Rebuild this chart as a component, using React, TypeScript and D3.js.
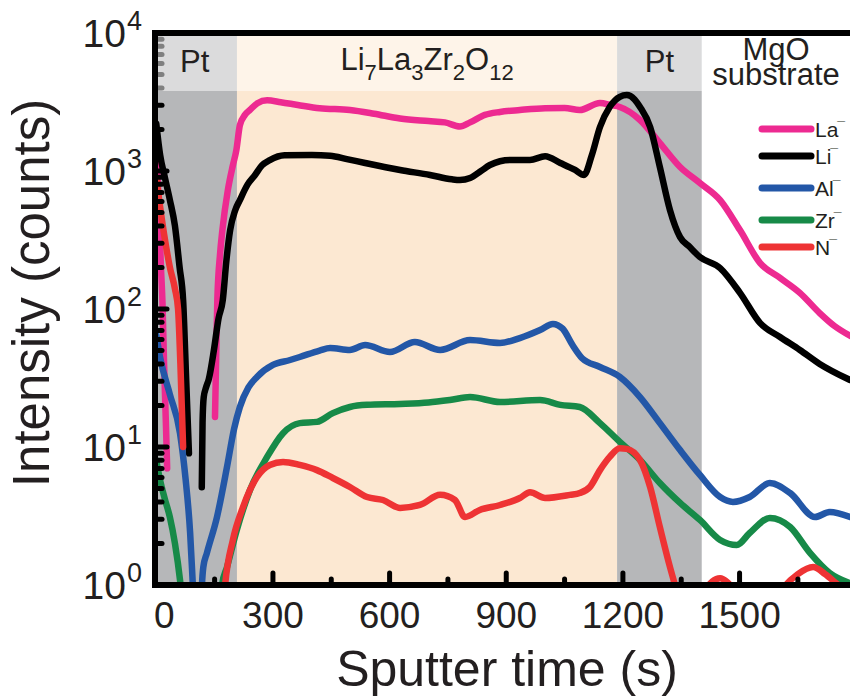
import React from 'react';
import * as d3 from 'd3';

const W = 850;
const H = 700;

// Each series: [sputter time (s), counts]; segments are separated where the trace breaks
const laSeg1: [number, number][] = [[0, 1500], [6, 600], [12, 200], [16, 110], [20, 40], [25, 14], [28, 7]];
const laSeg2: [number, number][] = [[151, 16.5], [154, 45], [157, 116], [164, 250], [170, 373], [184, 725], [197, 1100], [206, 1420], [215, 2150], [228, 2550], [241, 2770], [260, 3100], [285, 3250], [320, 3150], [364, 3010], [420, 2850], [498, 2767], [560, 2600], [627, 2400], [700, 2300], [742, 2250], [781, 2100], [807, 2250], [845, 2550], [884, 2680], [935, 2767], [1000, 2850], [1050, 2860], [1089, 2767], [1141, 3110], [1170, 3000], [1192, 2910], [1244, 2343], [1295, 1595], [1347, 1069], [1398, 819], [1450, 616], [1501, 373], [1553, 215], [1604, 168], [1655, 131], [1706, 93.5], [1745, 75], [1784, 64]];

const liSeg1: [number, number][] = [[0, 2200], [10, 1300], [22, 900], [35, 616], [48, 400], [60, 200], [69, 116], [77, 30], [84, 9]];
const liSeg2: [number, number][] = [[117, 5.1], [119, 15], [122, 23], [128, 27], [135, 31], [148, 50], [160, 85], [171, 116], [180, 220], [190, 373], [203, 520], [215, 616], [235, 800], [254, 936], [272, 1100], [292, 1200], [330, 1300], [400, 1306], [447, 1290], [490, 1220], [537, 1143], [627, 1017], [704, 936], [760, 870], [781, 860], [807, 890], [835, 1000], [858, 1105], [910, 1202], [961, 1202], [1000, 1280], [1039, 1143], [1077, 1017], [1100, 936], [1120, 1300], [1141, 2084], [1166, 2910], [1192, 3450], [1210, 3555], [1230, 3300], [1244, 2910], [1270, 2084], [1295, 1069], [1321, 521], [1347, 332], [1372, 281], [1398, 238], [1450, 198], [1501, 131], [1553, 79], [1604, 62.7], [1655, 50.5], [1706, 40], [1784, 30.6]];

const alSeg1: [number, number][] = [[0, 65], [9.5, 45], [35, 24], [61, 12.6], [75, 6], [87, 2.4], [94, 1.0], [98, 0.6]];
const alSeg2: [number, number][] = [[115, 0.6], [117.5, 1.0], [121, 1.35], [130, 1.7], [156, 3.1], [182, 7.2], [200, 13.5], [215, 19.5], [237, 27], [259, 32.2], [300, 39.3], [344, 42.7], [369, 44.9], [420, 50], [447, 52.2], [498, 50.5], [537, 54.8], [601, 48.8], [665, 57.7], [730, 50.5], [807, 59.6], [884, 56.7], [935, 61.6], [987, 70.4], [1020, 78], [1045, 72], [1070, 55], [1095, 44], [1141, 38], [1192, 32.2], [1244, 23], [1295, 14.9], [1347, 9.5], [1398, 6.27], [1450, 4.34], [1483, 4.0], [1526, 4.34], [1578, 5.48], [1630, 4.64], [1694, 3.11], [1732, 3.38], [1784, 3.11]];

const zrSeg1: [number, number][] = [[0, 8], [9.5, 5.8], [22, 4.2], [35, 3.1], [48, 2], [61, 1.09], [66, 0.8]];
const zrSeg2: [number, number][] = [[165, 0.8], [169, 1.0], [182, 1.35], [207, 2.5], [241, 4.88], [285, 8.47], [326, 12.6], [369, 14.9], [413, 15.2], [454, 17.6], [498, 19.5], [542, 20.2], [627, 20.5], [700, 21], [755, 21.9], [807, 23], [884, 21.2], [987, 21.9], [1039, 20.2], [1089, 19.5], [1141, 14.9], [1192, 10.9], [1244, 8.05], [1295, 5.48], [1347, 3.93], [1398, 2.96], [1450, 2.12], [1493, 1.95], [1526, 2.38], [1578, 3.06], [1630, 2.63], [1681, 1.71], [1732, 1.22], [1784, 1.03]];

const nSeg1: [number, number][] = [[0, 900], [8, 600], [20, 350], [35, 200], [48, 140], [56, 100], [62, 40], [69, 10]];
const nSeg2: [number, number][] = [[174, 0.8], [177, 1.0], [197, 2.12], [223, 3.67], [259, 6.06], [292, 7.41], [326, 7.8], [369, 7.41], [413, 6.8], [454, 5.96], [498, 5.13], [542, 4.34], [583, 4.13], [627, 3.62], [678, 3.8], [730, 4.5], [768, 4.13], [794, 3.11], [832, 3.5], [884, 3.8], [935, 4.27], [961, 4.7], [1000, 4.27], [1064, 4.5], [1089, 4.64], [1115, 5.13], [1141, 6.8], [1166, 8.47], [1192, 9.8], [1210, 9.7], [1244, 8.05], [1270, 5.13], [1295, 2.63], [1321, 1.35], [1334, 1.0], [1350, 0.7], [1380, 0.6], [1410, 0.9], [1430, 1.06], [1450, 1.12], [1470, 1.04], [1490, 0.9], [1530, 0.7], [1580, 0.7], [1612, 0.95], [1650, 1.2], [1689, 1.35], [1720, 1.2], [1750, 1.02], [1784, 0.85]];

const seriesNames = ['La', 'Li', 'Al', 'Zr', 'N'];
const seriesColors = ['#ED2A91', '#000000', '#2357A7', '#178A48', '#EE3334'];
const seriesSegments = [[laSeg1, laSeg2], [liSeg1, liSeg2], [alSeg1, alSeg2], [zrSeg1, zrSeg2], [nSeg1, nSeg2]];

// Layer bands (time, s)
const bandStart = [-20, 207.5, 1185, 1403];
const bandEnd = [207.5, 1185, 1403, 1900];
const bandColors = ['#B6B7B9', '#FCE8D2', '#B6B7B9', '#FFFFFF'];

const xMajorTicks = [300, 600, 900, 1200, 1500];
const xTickLabels = [0, 300, 600, 900, 1200, 1500];
const xMinorTicks = [150, 450, 750, 1050, 1350, 1650];
const yExponents = [0, 1, 2, 3, 4];

const FONT = '"Liberation Sans", Arial, Helvetica, sans-serif';
const TXT = '#231F20';

export default function App() {
  const left = 155, right = 850, top = 33, bottom = 585, headerBottom = 91;
  const x = d3.scaleLinear().domain([-3.3, 1784]).range([left, right]);
  const y = d3.scaleLog().domain([1, 10000]).range([bottom, top]);
  const line = d3.line<[number, number]>().x(d => x(d[0])).y(d => y(d[1])).curve(d3.curveMonotoneX);

  const yMinor: number[] = [];
  const yMajor: number[] = [];
  for (let e = 0; e < 4; e++) {
    if (e > 0) yMajor.push(Math.pow(10, e));
    for (let k = 2; k <= 9; k++) yMinor.push(k * Math.pow(10, e));
  }

  const legendY = [129, 156, 188, 220, 247];

  return (
    <svg width={W} height={H} style={{ display: 'block', position: 'absolute', left: 0, top: 0 }} fontFamily={FONT}>
      <defs>
        <clipPath id="plotClip">
          <rect x={left} y={top} width={right - left} height={bottom - top} />
        </clipPath>
      </defs>
      <rect x={0} y={0} width={W} height={H} fill="#fff" />
      <g clipPath="url(#plotClip)">
        {bandStart.map((s, i) => (
          <rect key={i} x={x(s)} y={top} width={x(bandEnd[i]) - x(s)} height={bottom - top} fill={bandColors[i]} />
        ))}
        {seriesSegments.map((segs, i) => (
          <g key={i}>
            {segs.map((seg, j) => (
              <path key={j} d={line(seg) || ''} fill="none" stroke={seriesColors[i]} strokeWidth={6.5}
                strokeLinecap="round" strokeLinejoin="round" />
            ))}
          </g>
        ))}
      </g>
      {/* ticks */}
      <g stroke="#000" strokeWidth={5} strokeLinecap="round">
        {xMajorTicks.map(t => <line key={'M' + t} x1={x(t)} x2={x(t)} y1={bottom} y2={bottom - 12} />)}
        {xMinorTicks.map(t => <line key={'m' + t} x1={x(t)} x2={x(t)} y1={bottom} y2={bottom - 6} />)}
        {yMajor.map(v => <line key={'YM' + v} x1={left} x2={left + 12} y1={y(v)} y2={y(v)} />)}
        {yMinor.map(v => <line key={'Ym' + v} x1={left} x2={left + 7} y1={y(v)} y2={y(v)} />)}
      </g>
      {/* header overlay */}
      <rect x={left + 3} y={top} width={right - left} height={headerBottom - top} fill="#fff" opacity={0.5} />
      {/* header labels */}
      <g fill={TXT} fontSize={31} textAnchor="middle">
        <text x={(x(bandStart[0]) + x(bandEnd[0])) / 2 + 2} y={72}>Pt</text>
        <text x={(x(bandStart[1]) + x(bandEnd[1])) / 2} y={70}>
          <tspan>Li</tspan>
          <tspan fontSize={22} dy={10}>7</tspan>
          <tspan dy={-10}>La</tspan>
          <tspan fontSize={22} dy={10}>3</tspan>
          <tspan dy={-10}>Zr</tspan>
          <tspan fontSize={22} dy={10}>2</tspan>
          <tspan dy={-10}>O</tspan>
          <tspan fontSize={22} dy={10}>12</tspan>
        </text>
        <text x={(x(bandStart[2]) + x(bandEnd[2])) / 2} y={72}>Pt</text>
        <text y={60}>
          <tspan x={776}>MgO</tspan>
          <tspan x={776} dy={25}>substrate</tspan>
        </text>
      </g>
      {/* axis lines */}
      <g stroke="#000" strokeWidth={6} fill="none">
        <line x1={left} x2={right} y1={top} y2={top} />
        <line x1={left} x2={left} y1={top - 3} y2={bottom + 3} />
        <line x1={left - 3} x2={right} y1={bottom} y2={bottom} />
      </g>
      {/* legend */}
      {seriesNames.map((n, i) => (
        <g key={n}>
          <line x1={762} x2={811} y1={legendY[i]} y2={legendY[i]} stroke={seriesColors[i]} strokeWidth={7} strokeLinecap="round" />
          <text x={815} y={legendY[i] + 8} fontSize={21} fill={TXT}>
            {n}
            <tspan fontSize={14} fontWeight="bold" dx={-1} dy={-5}>¯</tspan>
          </text>
        </g>
      ))}
      {/* x tick labels */}
      <g fill={TXT} fontSize={37} textAnchor="middle">
        {xTickLabels.map(t => (
          <text key={t} x={x(t) + (t === 0 ? 8 : 0)} y={628}>{t}</text>
        ))}
      </g>
      {/* y tick labels */}
      <g fill={TXT}>
        {yExponents.map(e => (
          <g key={e}>
            <text x={126} y={y(Math.pow(10, e)) + 14} fontSize={39} textAnchor="end">10</text>
            <text x={127} y={y(Math.pow(10, e)) - 3} fontSize={27} textAnchor="start">{e}</text>
          </g>
        ))}
      </g>
      {/* axis titles */}
      <text x={507} y={686} fontSize={50} textAnchor="middle" fill={TXT}>Sputter time (s)</text>
      <text transform="translate(49,293) rotate(-90)" fontSize={51} textAnchor="middle" fill={TXT}>Intensity (counts)</text>
    </svg>
  );
}
